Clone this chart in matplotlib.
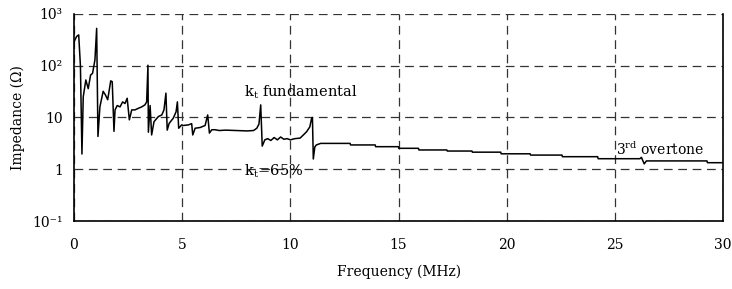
import numpy as np
import matplotlib
matplotlib.use("Agg")
import matplotlib.pyplot as plt

plt.rcParams['font.family'] = ['DejaVu Serif']
plt.rcParams['mathtext.fontset'] = 'dejavuserif'

# frequency (MHz) and impedance (ohm)
freq = [0.01, 0.12, 0.22, 0.30, 0.37, 0.43, 0.55, 0.66, 0.77, 0.86, 0.97, 1.05,
        1.11, 1.20, 1.35, 1.46, 1.56, 1.70, 1.77, 1.85, 1.90, 2.00, 2.13, 2.25,
        2.36, 2.46, 2.56, 2.67, 2.82, 2.97, 3.13, 3.28, 3.36, 3.42, 3.44, 3.52,
        3.59, 3.70, 3.90, 4.06, 4.16, 4.25, 4.31, 4.40, 4.59, 4.72, 4.78, 4.84,
        4.98, 5.05, 5.29, 5.44, 5.49, 5.60, 5.83, 6.06, 6.18, 6.26, 6.37, 6.52,
        6.72, 7.0, 7.5, 8.0, 8.3, 8.45, 8.55, 8.63, 8.70, 8.82, 8.95, 9.10,
        9.25, 9.40, 9.55, 9.70, 9.85, 10.0, 10.2, 10.45, 10.6, 10.75, 10.9, 10.98,
        11.02, 11.06, 11.13, 11.2, 11.4, 12.76, 12.78, 13.92, 13.94, 14.99, 15.01,
        15.92, 15.94, 17.23, 17.25, 18.39, 18.41, 19.72, 19.74, 21.08, 21.10,
        22.55, 22.57, 24.2, 24.22, 26.15, 26.22, 26.35, 26.45, 29.25, 29.27, 30.0]
imp = [292, 365, 393, 100, 1.97, 25, 53, 36, 66, 71, 129, 525,
       4.3, 16, 32, 27, 22, 51, 49, 5.4, 14, 17, 16, 20,
       18.6, 23.5, 9, 14, 14, 15, 16, 17.5, 20, 102, 5.2, 17,
       4.6, 8.3, 10.4, 11.2, 14, 29.5, 5.7, 7.7, 9.7, 12.9, 20, 6.2,
       7.2, 7.0, 7.2, 7.6, 4.6, 6.2, 6.4, 7.0, 11.2, 5.0, 5.8, 5.8,
       5.6, 5.7, 5.6, 5.5, 5.6, 6.2, 7.5, 17.5, 2.8, 3.7, 3.9, 3.6,
       4.1, 3.7, 4.2, 3.8, 3.9, 3.7, 3.9, 4.0, 4.6, 5.3, 6.6, 9.6,
       10.0, 1.58, 2.7, 2.95, 3.16, 3.16, 2.95, 2.95, 2.73, 2.73, 2.54,
       2.54, 2.36, 2.36, 2.25, 2.25, 2.14, 2.14, 1.99, 1.99, 1.88,
       1.88, 1.75, 1.75, 1.6, 1.6, 1.7, 1.27, 1.45, 1.45, 1.34, 1.34]

xticks = [0, 5, 10, 15, 20, 25, 30]
yticks = [0.1, 1, 10, 100, 1000]
ylabels = ['10⁻¹', '1', '10', '10²', '10³']

fig = plt.figure(figsize=(7.32, 2.89), dpi=100)
ax = fig.add_axes([0.101, 0.235, 0.887, 0.717])

ax.semilogy(freq, imp, color='black', lw=1.1)
ax.set_xlim(0, 30)
ax.set_ylim(0.1, 1000)
ax.set_xticks(xticks)
ax.set_yticks(yticks)
ax.set_yticklabels(ylabels)
ax.minorticks_off()
ax.tick_params(length=0, labelsize=10, pad=12)
ax.tick_params(axis='y', pad=8)

ax.grid(True, color='0.2', linestyle=(0, (7, 4.5)), lw=0.9)
ax.spines['top'].set_visible(False)
for s in ['left', 'bottom', 'right']:
    ax.spines[s].set_linewidth(1.2)

ax.set_xlabel('Frequency (MHz)', fontsize=10, labelpad=9)
ax.set_ylabel('Impedance (Ω)', fontsize=10, labelpad=5)

ax.text(7.85, 30, r'k$_\mathrm{t}$ fundamental', fontsize=10.5, va='center')
ax.text(7.85, 0.93, r'k$_\mathrm{t}$=65%', fontsize=10.5, va='center')
ax.text(25.05, 2.4, r'3$^\mathrm{rd}$ overtone', fontsize=10, va='center')

fig.savefig('out.png', dpi=100)
